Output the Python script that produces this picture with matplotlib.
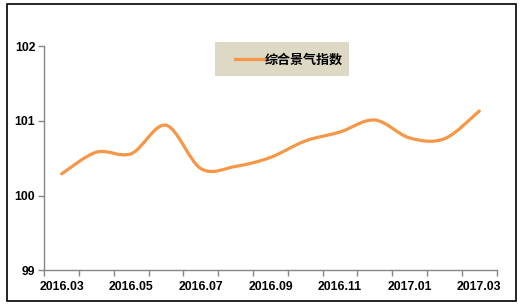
import matplotlib
matplotlib.use("Agg")
import matplotlib.pyplot as plt
from matplotlib.path import Path
from matplotlib.patches import PathPatch, Rectangle
from matplotlib.lines import Line2D
import numpy as np

months = ["2016.03", "2016.04", "2016.05", "2016.06", "2016.07", "2016.08", "2016.09",
          "2016.10", "2016.11", "2016.12", "2017.01", "2017.02", "2017.03"]
index_values = [100.29, 100.58, 100.56, 100.94, 100.36, 100.39, 100.51,
                100.73, 100.85, 101.01, 100.77, 100.76, 101.13]
series_name = "综合景气指数"
y_ticks = [99, 100, 101, 102]

W, H = 529, 306
fig = plt.figure(figsize=(W / 100, H / 100), dpi=100)
fig.patch.set_facecolor("white")

ax = fig.add_axes([44.3 / W, 1 - 270.3 / H, (496.7 - 44.3) / W, (270.3 - 46) / H])
n = len(months)
ax.set_xlim(-0.5, n - 0.5)
ax.set_ylim(99, 102)

# smoothed line (Excel-style Catmull-Rom Bezier through the data points)
x = np.arange(n, dtype=float)
y = np.array(index_values, dtype=float)
P = np.column_stack([x, y])
verts = [P[0]]
codes = [Path.MOVETO]
for i in range(n - 1):
    p_prev = P[i - 1] if i > 0 else P[i]
    p_next2 = P[i + 2] if i + 2 < n else P[i + 1]
    c1 = P[i] + (P[i + 1] - p_prev) / 6.0
    c2 = P[i + 1] - (p_next2 - P[i]) / 6.0
    verts += [c1, c2, P[i + 1]]
    codes += [Path.CURVE4] * 3
line_color = "#F79646"
ax.add_patch(PathPatch(Path(verts, codes), facecolor="none", edgecolor=line_color,
                       lw=2.3, capstyle="round", joinstyle="round"))

# axes styling
for s in ["top", "right"]:
    ax.spines[s].set_visible(False)
for s in ["left", "bottom"]:
    ax.spines[s].set_color("#868686")
    ax.spines[s].set_linewidth(1.0)

ax.set_yticks(y_ticks)
ax.set_yticklabels([str(v) for v in y_ticks], fontsize=8.8, fontweight="bold",
                   family="Liberation Sans")
ax.tick_params(axis="y", direction="out", length=4, width=1, color="#868686", pad=2.5)

ax.set_xticks(x[::2])
ax.set_xticklabels(months[::2], fontsize=8.8, fontweight="bold", family="Liberation Sans")
ax.set_xticks(np.arange(-0.5, n, 1.0), minor=True)
ax.tick_params(axis="x", which="major", length=0, pad=8)
ax.tick_params(axis="x", which="minor", direction="out", length=4, width=1, color="#868686")

# legend box
legend_bg = "#DDD9C4"
fig.add_artist(Rectangle((215 / W, 1 - 76 / H), (349 - 215) / W, (76 - 42) / H,
                         transform=fig.transFigure, facecolor=legend_bg, edgecolor="none"))
fig.add_artist(Line2D([235 / W, 264 / W], [1 - 59 / H, 1 - 59 / H], transform=fig.transFigure,
                      color=line_color, lw=2.3))
fig.text(264.5 / W, 1 - 59.5 / H, series_name, fontsize=9.4, fontweight="bold",
         family=["Noto Sans CJK SC", "DejaVu Sans"], va="center", ha="left")

# outer border
fig.add_artist(Rectangle((7 / W, 1 - 301 / H), (516 - 7) / W, (301 - 3.5) / H,
                         transform=fig.transFigure, facecolor="none", edgecolor="black", lw=1.2))

fig.savefig("out.png", dpi=100)
